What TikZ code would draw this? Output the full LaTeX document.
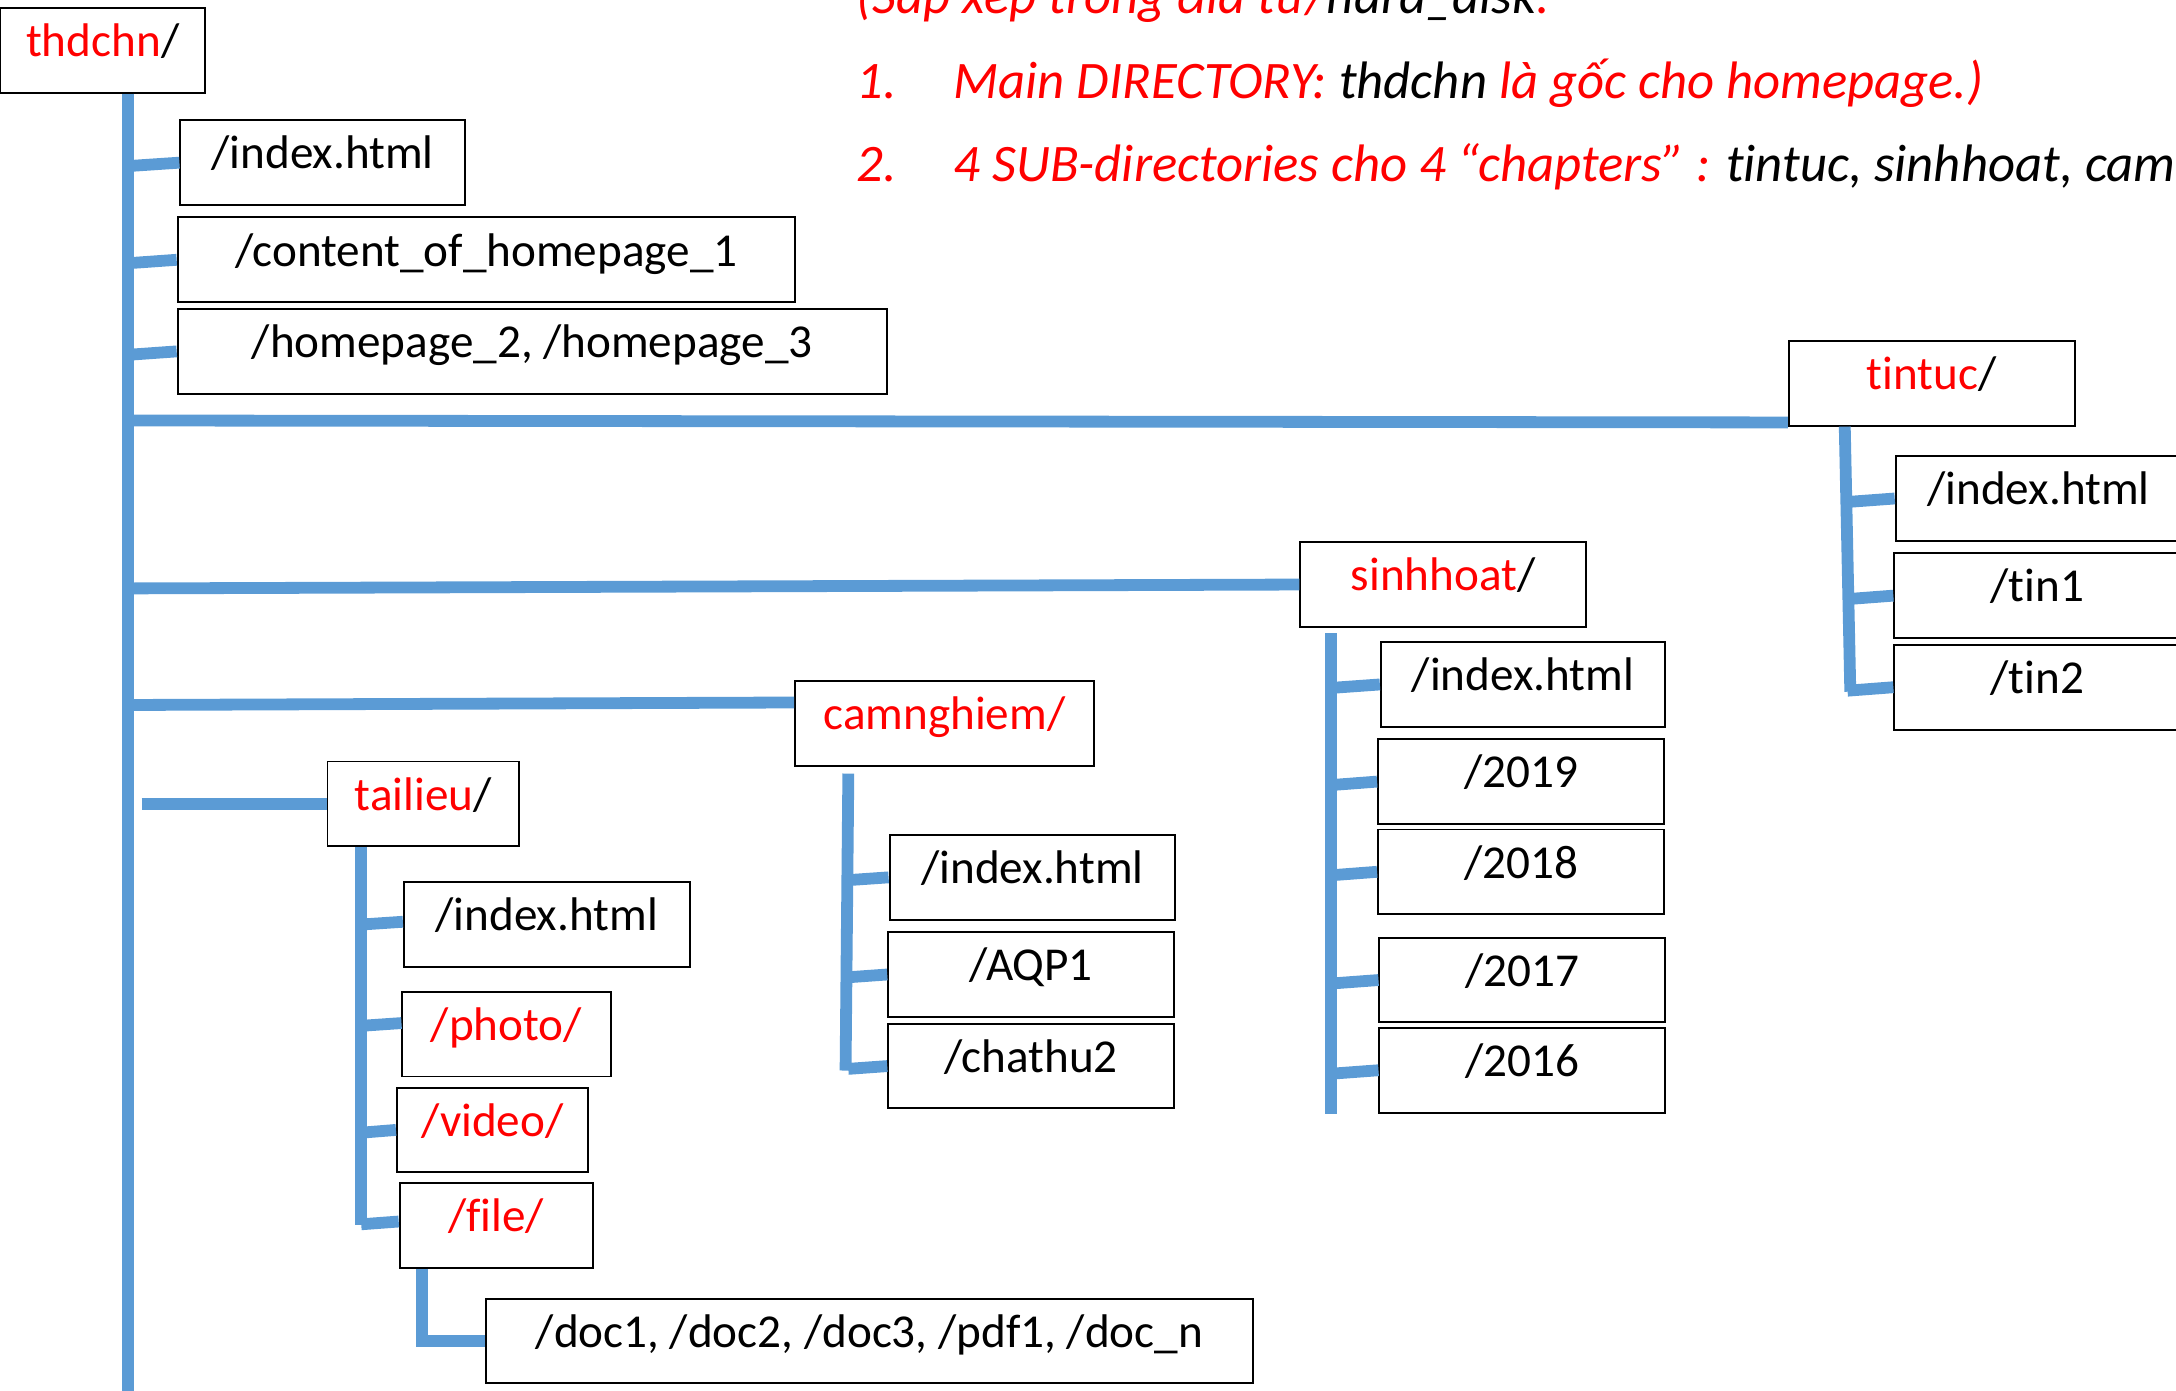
\documentclass[tikz,border=0pt]{standalone}
\usepackage{fontspec}
\setmainfont[Ligatures={NoCommon,NoContextual}]{Carlito}

\definecolor{dirred}{RGB}{255,0,0}
\definecolor{treeblue}{RGB}{91,155,213}

\tikzset{
  folder/.style={draw, line width=1.4pt, inner sep=0pt, anchor=north,
    text height=35pt, text depth=26pt, font=\fontsize{34}{40}\selectfont},
  branch/.style={treeblue, line width=8.5pt},
  note/.style={anchor=base west, inner sep=0pt, text=dirred,
    font=\fontsize{38}{46}\selectfont\itshape},
}

\begin{document}
\begin{tikzpicture}[x=1pt, y=-1pt]
  \useasboundingbox (0,0) rectangle (1568,1002);

  % Notes
  \node[note] (n0) at (617,10) {(Sắp xếp trong đĩa từ/\textcolor{black}{hard\_disk}.};
  \node[note] (n1) at (617,71) {1.};
  \node[note] (t1) at (687,71) {Main DIRECTORY: \textcolor{black}{thdchn} là gốc cho homepage.)};
  \node[note] (n2) at (617,131) {2.};
  \node[note] (t2) at (687,131) {4 SUB-directories cho 4 “chapters” : \textcolor{black}{tintuc, sinhhoat, camnghiem, tailieu}};

  % Root folder and trunk
  \node[folder, minimum width=148] (thdchn) at (74,5) {\textcolor{dirred}{thdchn}/};
  \coordinate (root) at ([xshift=18pt]thdchn.south);
  \draw[branch] (root) -- (root |- 0,1010);

  % Files of the root
  \node[folder, minimum width=205] (idx) at (232.5,86) {/index.html};
  \node[folder, minimum width=445] (content) at (350.5,156) {/content\_of\_homepage\_1};
  \node[folder, minimum width=511] (pages) at (383.5,222) {/homepage\_2, /homepage\_3};
  \foreach \f in {idx, content, pages}
    \draw[branch] ([yshift=-2.5pt]\f.west -| root) -- (\f.west);

  % tintuc
  \node[folder, minimum width=206] (tintuc) at (1392,245) {\textcolor{dirred}{tintuc}/};
  \draw[branch] (root |- 0,303) -- ([yshift=3pt]tintuc.south west);
  \node[folder, minimum width=206] (tidx) at (1469,328) {/index.html};
  \node[folder, minimum width=206] (tin1) at (1468,398) {/tin1};
  \node[folder, minimum width=206] (tin2) at (1468,464) {/tin2};
  \coordinate (ttop) at ([xshift=41pt]tintuc.south west);
  \draw[branch] (ttop) -- ++(4,191);
  \foreach \f in {tidx, tin1, tin2}
    \draw[branch] ([shift={(2,2.5)}]\f.west -| ttop) -- (\f.west);

  % sinhhoat
  \node[folder, minimum width=206] (sinhhoat) at (1040,390) {\textcolor{dirred}{sinhhoat}/};
  \draw[branch] (root |- 0,424) -- (sinhhoat.west);
  \node[folder, minimum width=205] (sidx) at (1097.5,462) {/index.html};
  \node[folder, minimum width=206] (y2019) at (1096,532) {/2019};
  \node[folder, minimum width=206] (y2018) at (1096,597) {/2018};
  \node[folder, minimum width=206] (y2017) at (1097,675) {/2017};
  \node[folder, minimum width=206] (y2016) at (1097,740) {/2016};
  \coordinate (stop) at ([shift={(23,4)}]sinhhoat.south west);
  \draw[branch] (stop) -- ++(0,346);
  \foreach \f in {sidx, y2019, y2018, y2017, y2016}
    \draw[branch] ([yshift=-2.5pt]\f.west -| stop) -- (\f.west);

  % camnghiem
  \node[folder, minimum width=215] (camnghiem) at (680.5,490) {\textcolor{dirred}{camnghiem/}};
  \draw[branch] (root |- 0,508) -- ([yshift=15pt]camnghiem.west);
  \node[folder, minimum width=206] (cidx) at (744,601) {/index.html};
  \node[folder, minimum width=206] (aqp) at (743,671) {/AQP1};
  \node[folder, minimum width=206] (chathu) at (743,737) {/chathu2};
  \coordinate (ctop) at ([shift={(39,5)}]camnghiem.south west);
  \draw[branch] (ctop) -- ++(-2,214);
  \foreach \f in {cidx, aqp, chathu}
    \draw[branch] ([yshift=-2pt]\f.west -| ctop) -- (\f.west);

  % tailieu
  \node[folder, minimum width=138] (tailieu) at (305,548) {\textcolor{dirred}{tailieu}/};
  \coordinate (tfree) at ([xshift=10pt]root |- tailieu.west);
  \draw[branch] (tfree) -- (tailieu.west);
  \node[folder, minimum width=206] (lidx) at (394,635) {/index.html};
  \node[folder, minimum width=150] (photo) at (365,714) {\textcolor{dirred}{/photo/}};
  \node[folder, minimum width=138] (video) at (355,783) {\textcolor{dirred}{/video/}};
  \node[folder, minimum width=139] (file) at (357.5,852) {\textcolor{dirred}{/file/}};
  \coordinate (ltop) at ([xshift=25pt]tailieu.south west);
  \draw[branch] (ltop) -- ++(0,272);
  \foreach \f/\dy in {lidx/2, photo/8, video/0, file/3}
    \draw[branch] ([yshift=\dy pt-2pt]\f.west -| ltop) -- ([yshift=\dy pt]\f.west);

  % files
  \node[folder, minimum width=553] (docs) at (626.5,935) {/doc1, /doc2, /doc3, /pdf1, /doc\_n};
  \draw[branch] ([xshift=17pt]file.south west) |- (docs.west);
\end{tikzpicture}
\end{document}
